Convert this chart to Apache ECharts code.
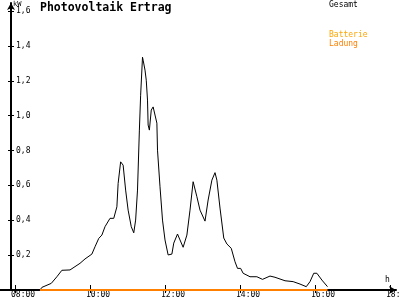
<!DOCTYPE html>
<html><head><meta charset="utf-8">
<script src="https://cdn.jsdelivr.net/npm/echarts@6/dist/echarts.min.js"></script>
<style>html,body{margin:0;padding:0;background:#fff}#c{width:400px;height:300px}</style>
</head><body><div id="c"></div>
<script>
// Gesamt (kW) over time of day
const gesamtTimes = ["08:40","08:43","08:58","09:07","09:15","09:28","09:36","09:44","09:52","10:03","10:08","10:14","10:19","10:24","10:32","10:38","10:43","10:45","10:49","10:53","10:57","11:01","11:06","11:10","11:13","11:16","11:19","11:21","11:24","11:25","11:28","11:30","11:32","11:33","11:35","11:38","11:41","11:44","11:47","11:48","11:52","11:56","12:00","12:05","12:11","12:14","12:20","12:24","12:29","12:35","12:40","12:45","12:51","12:56","13:04","13:09","13:15","13:20","13:23","13:28","13:34","13:39","13:46","13:52","13:56","14:01","14:05","14:16","14:27","14:36","14:48","14:56","15:12","15:25","15:36","15:46","15:52","15:58","16:03","16:11","16:20"];
const gesamtValues = [0.00,0.015,0.038,0.076,0.113,0.115,0.134,0.153,0.178,0.206,0.248,0.296,0.315,0.363,0.411,0.411,0.477,0.611,0.735,0.716,0.573,0.458,0.363,0.328,0.401,0.573,0.917,1.117,1.335,1.318,1.261,1.203,1.089,0.946,0.917,1.032,1.050,1.060,0.957,0.802,0.592,0.401,0.287,0.201,0.206,0.269,0.321,0.287,0.245,0.315,0.458,0.621,0.535,0.458,0.395,0.516,0.630,0.673,0.630,0.470,0.298,0.264,0.239,0.162,0.124,0.124,0.096,0.076,0.076,0.061,0.080,0.073,0.053,0.048,0.034,0.019,0.048,0.096,0.096,0.057,0.019];
// Batterie Ladung (kW)
const ladungTimes = ["08:40","16:20"];
const ladungValues = [0, 0];
const xTicks = [8,10,12,14,16,18];
const yTicks = [0.2,0.4,0.6,0.8,1.0,1.2,1.4,1.6];

function toH(s){const p=s.split(':');return +p[0]+ +p[1]/60;}
const gData = gesamtTimes.map((t,i)=>[toH(t),gesamtValues[i]]);
const lData = ladungTimes.map((t,i)=>[toH(t),ladungValues[i]]);
const F = 'DejaVu Sans Mono';
const xmin=7.6, xmax=18.16, ymax=1.6459;
const xfmt = v => (v<10?'0':'')+v+':00';

const chart = echarts.init(document.getElementById('c'), null, {renderer:'canvas'});
chart.setOption({
  animation:false,
  backgroundColor:'#fff',
  grid:{left:0,right:4,top:3,bottom:10,containLabel:false,outerBoundsMode:'none'},
  title:[
    {text:'Photovoltaik Ertrag',left:40,top:2,padding:0,textStyle:{fontFamily:F,fontWeight:'bold',fontSize:11.5,color:'#000'}},
    {text:'kW',left:13,top:1,padding:0,textStyle:{fontFamily:F,fontWeight:'normal',fontSize:7,color:'#000'}},
    {text:'h',left:385,top:276,padding:0,textStyle:{fontFamily:F,fontWeight:'normal',fontSize:8,color:'#000'}},
    {text:'Batterie',left:329,top:31,padding:0,textStyle:{fontFamily:F,fontWeight:'normal',fontSize:8,color:'#FFA500'}}
  ],
  legend:[
    {data:[{name:'Gesamt',icon:'none',textStyle:{color:'#000'}}],left:324,top:1,itemWidth:0,itemHeight:0,padding:0,
     textStyle:{fontFamily:F,fontSize:8}},
    {data:[{name:'Ladung',icon:'none',textStyle:{color:'#FF8000'}}],left:324,top:40,itemWidth:0,itemHeight:0,padding:0,
     textStyle:{fontFamily:F,fontSize:8}}
  ],
  xAxis:[
    {type:'value',min:xmin,max:xmax,position:'bottom',
     axisLine:{show:true,lineStyle:{color:'#000',width:2},symbol:['none','arrow'],symbolSize:[6,7]},
     axisTick:{show:true,inside:false,length:3,lineStyle:{color:'#000'},customValues:xTicks},
     axisLabel:{show:true,customValues:xTicks,formatter:xfmt,fontFamily:F,fontSize:8,color:'#000',margin:1,align:'left',padding:[0,0,0,-4]},
     splitLine:{show:false}},
    {type:'value',min:xmin,max:xmax,position:'bottom',
     axisLine:{show:false},
     axisTick:{show:true,inside:true,length:5,lineStyle:{color:'#000'},customValues:xTicks},
     axisLabel:{show:false},splitLine:{show:false}}
  ],
  yAxis:[
    {type:'value',min:0,max:ymax,offset:-11,position:'left',
     axisLine:{show:true,lineStyle:{color:'#000',width:2},symbol:['none','arrow'],symbolSize:[6,7]},
     axisTick:{show:true,inside:false,length:3,lineStyle:{color:'#000'},customValues:yTicks},
     axisLabel:{show:true,inside:true,margin:5,customValues:yTicks,formatter:v=>v.toFixed(1).replace('.',','),fontFamily:F,fontSize:8,color:'#000'},
     splitLine:{show:false}},
    {type:'value',min:0,max:ymax,offset:-11,position:'left',
     axisLine:{show:false},
     axisTick:{show:true,inside:true,length:3,lineStyle:{color:'#000'},customValues:yTicks},
     axisLabel:{show:false},splitLine:{show:false}}
  ],
  series:[
    {name:'Gesamt',type:'line',data:gData,showSymbol:false,symbol:'none',xAxisIndex:0,yAxisIndex:0,
     lineStyle:{color:'#000',width:1},itemStyle:{color:'#000'},z:3},
    {name:'Ladung',type:'line',data:lData,showSymbol:false,symbol:'none',xAxisIndex:0,yAxisIndex:0,
     lineStyle:{color:'#FF8000',width:2},itemStyle:{color:'#FF8000'},z:4}
  ]
});
</script></body></html>
